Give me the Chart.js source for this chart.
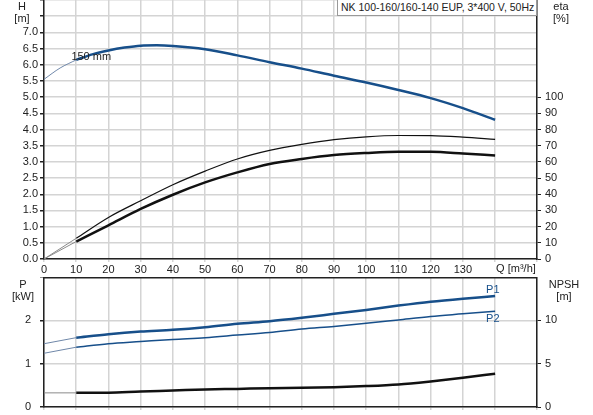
<!DOCTYPE html>
<html>
<head>
<meta charset="utf-8">
<script src="https://cdn.jsdelivr.net/npm/chart.js@4.4.1/dist/chart.umd.min.js"></script>
<style>
  body { margin: 0; background: #fff; }
  #wrap { position: relative; width: 593px; height: 415px; overflow: hidden;
          font-family: "Liberation Sans", Arial, sans-serif; font-size: 11px; color: #222; }
  canvas { position: absolute; left: 0; }
  .unit { position: absolute; text-align: center; line-height: 12px; }
  #title { position: absolute; left: 337px; top: -1px; width: 195px; height: 15px; line-height: 15px;
           padding-left: 3px; border: 1px solid #999; background: #fff; white-space: nowrap;
           font-size: 10.5px; }
</style>
</head>
<body>
<div id="wrap">
  <canvas id="topChart" width="593" height="278" style="top:0"></canvas>
  <canvas id="bottomChart" width="593" height="138" style="top:277px"></canvas>
  <div class="unit" style="left:8px;top:0;width:28px">H<br>[m]</div>
  <div class="unit" style="left:546px;top:0;width:30px">eta<br>[%]</div>
  <div class="unit" style="left:6px;top:278px;width:34px">P<br>[kW]</div>
  <div class="unit" style="left:544px;top:278px;width:40px">NPSH<br>[m]</div>
  <div id="title">NK 100-160/160-140 EUP, 3*400 V, 50Hz</div>
</div>
<script>
// Q-H curve (thin start + main)
const qHeadLead = [0, 5, 10];
const headLead = [5.55, 5.90, 6.15];
const qHead = [10, 15, 20, 25, 30, 35, 40, 50, 60, 70, 80, 90, 100, 110, 120, 130, 140];
const head = [6.15, 6.32, 6.44, 6.53, 6.59, 6.60, 6.58, 6.48, 6.29, 6.08, 5.88, 5.66, 5.45, 5.22, 4.97, 4.66, 4.30];

// shared flow points for the other curves
const qLead = [0, 10];
const qMain = [10, 20, 30, 40, 50, 60, 70, 80, 90, 100, 110, 120, 130, 140];

// efficiency [%]
const etaPumpLead = [0, 12.8];
const etaPump = [12.8, 25.7, 36.0, 45.9, 54.3, 61.8, 67.1, 70.8, 73.7, 75.5, 76.3, 76.2, 75.3, 73.9];
const etaTotalLead = [0, 10.8];
const etaTotal = [10.8, 20.8, 30.9, 39.7, 47.3, 53.5, 58.7, 61.8, 64.2, 65.5, 66.3, 66.2, 65.2, 64.0];

// power [kW]
const p1Lead = [1.46, 1.60];
const p1 = [1.60, 1.68, 1.74, 1.78, 1.84, 1.92, 1.98, 2.06, 2.15, 2.24, 2.34, 2.43, 2.50, 2.56];
const p2Lead = [1.24, 1.38];
const p2 = [1.38, 1.46, 1.51, 1.56, 1.60, 1.66, 1.72, 1.80, 1.86, 1.93, 2.01, 2.09, 2.15, 2.21];

// NPSH [m]
const npshLead = [1.63, 1.63];
const npsh = [1.63, 1.65, 1.79, 1.90, 2.02, 2.09, 2.17, 2.21, 2.29, 2.41, 2.60, 2.95, 3.37, 3.84];

const FONT = { family: '"Liberation Sans", Arial, sans-serif', size: 11 };
const GRID = '#d4d4d4';
const AXIS = '#222';
const BLUE = '#174f8a';

function pts(qs, vs) {
  return qs.map((q, i) => ({ x: q, y: vs[i] }));
}

function line(data, axis, color, width) {
  return {
    data: data, yAxisID: axis, borderColor: color, borderWidth: width,
    pointRadius: 0, fill: false, cubicInterpolationMode: 'monotone', borderCapStyle: 'butt'
  };
}

// fix the axis sizes so both panels share the same plot area
function fixWidth(w) {
  return s => { s.width = w; s.paddingTop = 0; s.paddingBottom = 0; };
}
function fixHeight(h) {
  return s => { s.height = h; s.paddingLeft = 0; s.paddingRight = 0; };
}

function xAxis(h, showLabels) {
  return {
    type: 'linear', position: 'bottom', min: 0, max: 153,
    afterFit: fixHeight(h),
    grid: { color: GRID, lineWidth: 1.5, tickLength: 3 },
    border: { color: AXIS, width: 1.5 },
    ticks: {
      stepSize: 10, display: showLabels, padding: 1, color: '#222', font: FONT,
      maxRotation: 0, autoSkip: false,
      callback: v => (v <= 130 ? String(v) : '')
    }
  };
}

const topChart = new Chart(document.getElementById('topChart'), {
  type: 'line',
  data: {
    datasets: [
      line(pts(qHeadLead, headLead), 'h', '#7088aa', 1),
      line(pts(qHead, head), 'h', BLUE, 2.5),
      line(pts(qLead, etaPumpLead), 'eta', '#8a8a8a', 1),
      line(pts(qMain, etaPump), 'eta', '#111', 1.2),
      line(pts(qLead, etaTotalLead), 'eta', '#8a8a8a', 1),
      line(pts(qMain, etaTotal), 'eta', '#111', 2.5)
    ]
  },
  options: {
    responsive: false,
    animation: false,
    layout: { padding: 0 },
    plugins: { legend: { display: false }, tooltip: { enabled: false } },
    scales: {
      x: xAxis(19, true),
      h: {
        position: 'left', min: 0, max: 8,
        afterFit: fixWidth(44),
        grid: { color: GRID, lineWidth: 1.5, tickLength: 4, tickColor: AXIS },
        border: { color: AXIS, width: 1.5 },
        ticks: { stepSize: 0.5, padding: 2, color: '#222', font: FONT, autoSkip: false,
                 callback: v => (v <= 7 ? v.toFixed(1) : '') }
      },
      eta: {
        position: 'right', min: 0, max: 160,
        afterFit: fixWidth(56),
        afterBuildTicks: s => { s.ticks = s.ticks.filter(t => t.value <= 100); },
        grid: { drawOnChartArea: false, tickLength: 4, tickColor: AXIS },
        border: { color: AXIS, width: 1.5 },
        ticks: { stepSize: 10, padding: 4, color: '#222', font: FONT, autoSkip: false }
      }
    }
  },
  plugins: [{
    id: 'topText',
    afterDraw(chart) {
      const { ctx } = chart;
      const x = chart.scales.x, h = chart.scales.h;
      ctx.save();
      ctx.font = '11px "Liberation Sans", Arial, sans-serif';
      ctx.fillStyle = '#222';
      ctx.textAlign = 'left';
      ctx.textBaseline = 'middle';
      ctx.fillText('150 mm', x.getPixelForValue(8.5), h.getPixelForValue(6.25));
      ctx.fillText('Q [m³/h]', x.getPixelForValue(140) + 1, x.top + 10);
      ctx.restore();
    }
  }]
});

const bottomChart = new Chart(document.getElementById('bottomChart'), {
  type: 'line',
  data: {
    datasets: [
      line(pts(qLead, p1Lead), 'p', '#6f87a8', 1),
      line(pts(qMain, p1), 'p', BLUE, 2.5),
      line(pts(qLead, p2Lead), 'p', '#6f87a8', 1),
      line(pts(qMain, p2), 'p', BLUE, 1.5),
      line(pts(qLead, npshLead), 'npsh', '#8a8a8a', 1),
      line(pts(qMain, npsh), 'npsh', '#111', 2.5)
    ]
  },
  options: {
    responsive: false,
    animation: false,
    layout: { padding: 0 },
    plugins: { legend: { display: false }, tooltip: { enabled: false } },
    scales: {
      x: xAxis(8, false),
      p: {
        position: 'left', min: 0, max: 3,
        afterFit: fixWidth(44),
        grid: { color: GRID, lineWidth: 1.5, tickLength: 4, tickColor: AXIS },
        border: { color: AXIS, width: 1.5 },
        ticks: { stepSize: 1, padding: 9, color: '#222', font: FONT, autoSkip: false,
                 callback: v => (v <= 2 ? String(v) : '') }
      },
      npsh: {
        position: 'right', min: 0, max: 15,
        afterFit: fixWidth(56),
        afterBuildTicks: s => { s.ticks = s.ticks.filter(t => t.value <= 10); },
        grid: { drawOnChartArea: false, tickLength: 4, tickColor: AXIS },
        border: { color: AXIS, width: 1.5 },
        ticks: { stepSize: 5, padding: 4, color: '#222', font: FONT, autoSkip: false }
      }
    }
  },
  plugins: [{
    id: 'bottomText',
    afterDraw(chart) {
      const { ctx, chartArea } = chart;
      const x = chart.scales.x, p = chart.scales.p;
      ctx.save();
      // top frame line of the lower panel
      ctx.strokeStyle = AXIS;
      ctx.lineWidth = 1.5;
      ctx.beginPath();
      ctx.moveTo(chartArea.left, chartArea.top + 0.75);
      ctx.lineTo(chartArea.right, chartArea.top + 0.75);
      ctx.stroke();
      ctx.font = '11px "Liberation Sans", Arial, sans-serif';
      ctx.fillStyle = BLUE;
      ctx.textAlign = 'left';
      ctx.textBaseline = 'middle';
      ctx.fillText('P1', x.getPixelForValue(137.2), p.getPixelForValue(2.70));
      ctx.fillText('P2', x.getPixelForValue(137.2), p.getPixelForValue(2.02));
      ctx.restore();
    }
  }]
});
</script>
</body>
</html>
